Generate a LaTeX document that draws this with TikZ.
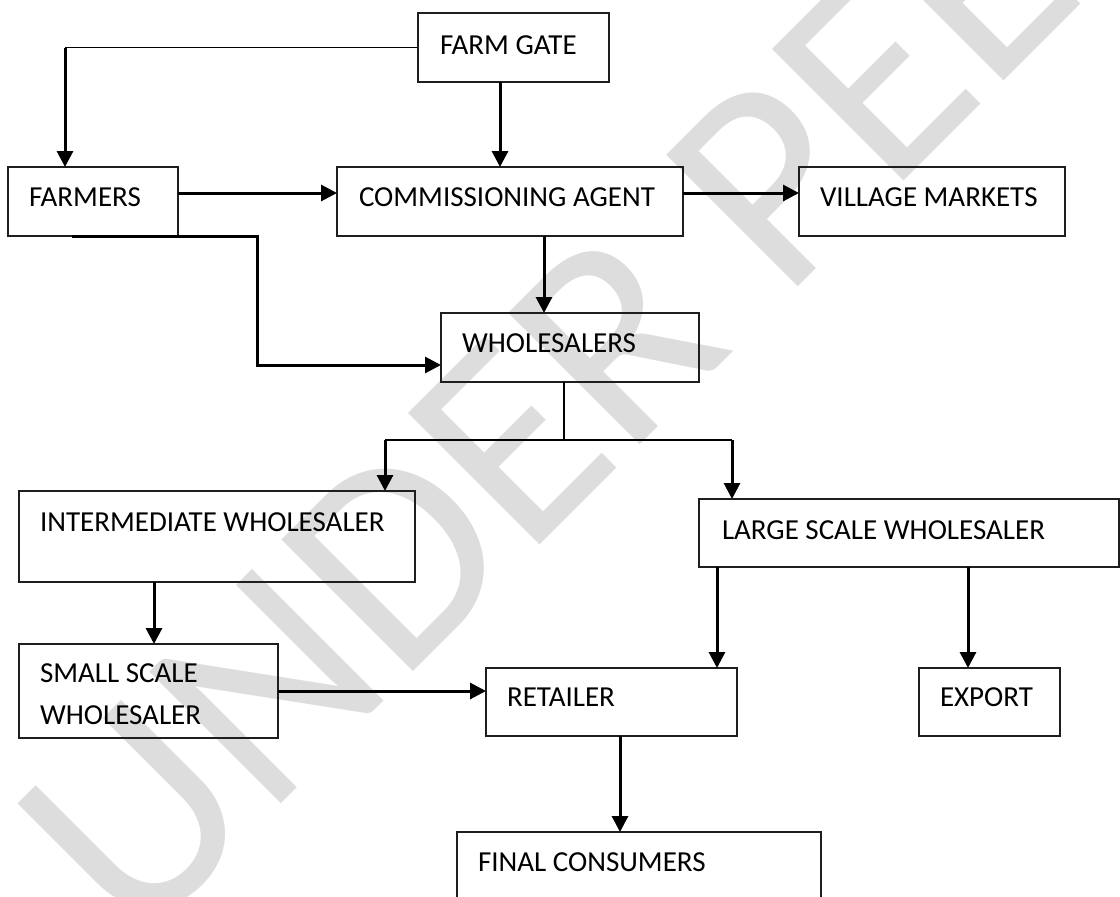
\documentclass[tikz,border=0pt]{standalone}
\usepackage{fontspec}
\setmainfont{Carlito}
\usetikzlibrary{arrows.meta}
\definecolor{wmgray}{RGB}{221,221,221}
\definecolor{boxline}{RGB}{30,30,30}
\begin{document}
\begin{tikzpicture}[x=1pt,y=-1pt,
  box/.style={draw=boxline, line width=1.4pt, rectangle, inner sep=0pt, outer sep=0pt},
  lbl/.style={font=\fontsize{29}{42}\selectfont, inner sep=0pt, outer sep=0pt, anchor=base west},
  arr/.style={line width=3pt, -{Triangle[width=16pt,length=16pt]}},
  thinln/.style={line width=1.4pt}]
\useasboundingbox (0,0) rectangle (1120,897);
\clip (0,0) rectangle (1120,897);
\fill[white] (0,0) rectangle (1120,897);
% watermark
\node[rotate=45, anchor=base west, inner sep=0pt, text=wmgray,
      font=\fontsize{290}{290}\selectfont] (wm) at (135,950) {UNDER PEER REVIEW};
% boxes
\node[box, minimum width=191pt, minimum height=69pt] (fg) at (513.5,47.5) {};
\node[box, minimum width=170pt, minimum height=69pt] (fa) at (93,201.5) {};
\node[box, minimum width=346pt, minimum height=69pt] (ca) at (510,201.5) {};
\node[box, minimum width=266pt, minimum height=69pt] (vm) at (932,201.5) {};
\node[box, minimum width=258pt, minimum height=69pt] (wh) at (570,347.5) {};
\node[box, minimum width=396pt, minimum height=91pt] (iw) at (217,536.5) {};
\node[box, minimum width=420pt, minimum height=68pt] (lw) at (909,533) {};
\node[box, minimum width=259pt, minimum height=94pt] (sw) at (148.5,691) {};
\node[box, minimum width=251pt, minimum height=68pt] (re) at (611.5,702) {};
\node[box, minimum width=141pt, minimum height=68pt] (ex) at (989.5,702) {};
\node[box, minimum width=364pt, minimum height=88pt] (fc) at (639,876) {};
% labels
\node[lbl] (fgt) at (440,54.5) {FARM GATE};
\node[lbl] (fat) at (29,206.5) {FARMERS};
\node[lbl] (cat) at (359,206.5) {COMMISSIONING AGENT};
\node[lbl] (vmt) at (820,206.5) {VILLAGE MARKETS};
\node[lbl] (wht) at (462,352.5) {WHOLESALERS};
\node[lbl] (iwt) at (40,531.5) {INTERMEDIATE WHOLESALER};
\node[lbl] (lwt) at (722,539.5) {LARGE SCALE WHOLESALER};
\node[lbl] (swt1) at (40,682.5) {SMALL SCALE};
\node[lbl] (swt2) at (40,724.5) {WHOLESALER};
\node[lbl] (ret) at (507,706.5) {RETAILER};
\node[lbl] (ext) at (940,706.5) {EXPORT};
\node[lbl] (fct) at (478,871.5) {FINAL CONSUMERS};
% connectors
\coordinate (jfg) at (65,47.5);
\draw[thinln] (fg.west) -- (jfg);
\draw[arr] (jfg) -- (jfg |- fa.north);
\coordinate (xa) at (500,0);
\draw[arr] (fg.south -| xa) -- (ca.north -| xa);
\coordinate (ya) at (0,193);
\draw[arr] (fa.east |- ya) -- (ca.west |- ya);
\draw[arr] (ca.east |- ya) -- (vm.west |- ya);
\coordinate (xb) at (544,0);
\draw[arr] (ca.south -| xb) -- (wh.north -| xb);
\coordinate (xc) at (72,0);
\coordinate (fw) at (257,365);
\draw[arr] (fa.south -| xc) -- (fw |- fa.south) -- (fw) -- (wh.west |- fw);
\coordinate (br) at (564,440);
\coordinate (bl) at (385,440);
\coordinate (brr) at (732,440);
\draw[thinln] (wh.south -| br) -- (br);
\draw[thinln] (bl) -- (brr);
\draw[arr] (bl) -- (iw.north -| bl);
\draw[arr] (brr) -- (lw.north -| brr);
\coordinate (xd) at (154,0);
\draw[arr] (iw.south -| xd) -- (sw.north -| xd);
\coordinate (ye) at (0,691);
\draw[arr] (sw.east |- ye) -- (re.west |- ye);
\coordinate (xf) at (717,0);
\draw[arr] (lw.south -| xf) -- (re.north -| xf);
\coordinate (xg) at (968,0);
\draw[arr] (lw.south -| xg) -- (ex.north -| xg);
\coordinate (xh) at (620,0);
\draw[arr] (re.south -| xh) -- (fc.north -| xh);
\end{tikzpicture}
\end{document}
